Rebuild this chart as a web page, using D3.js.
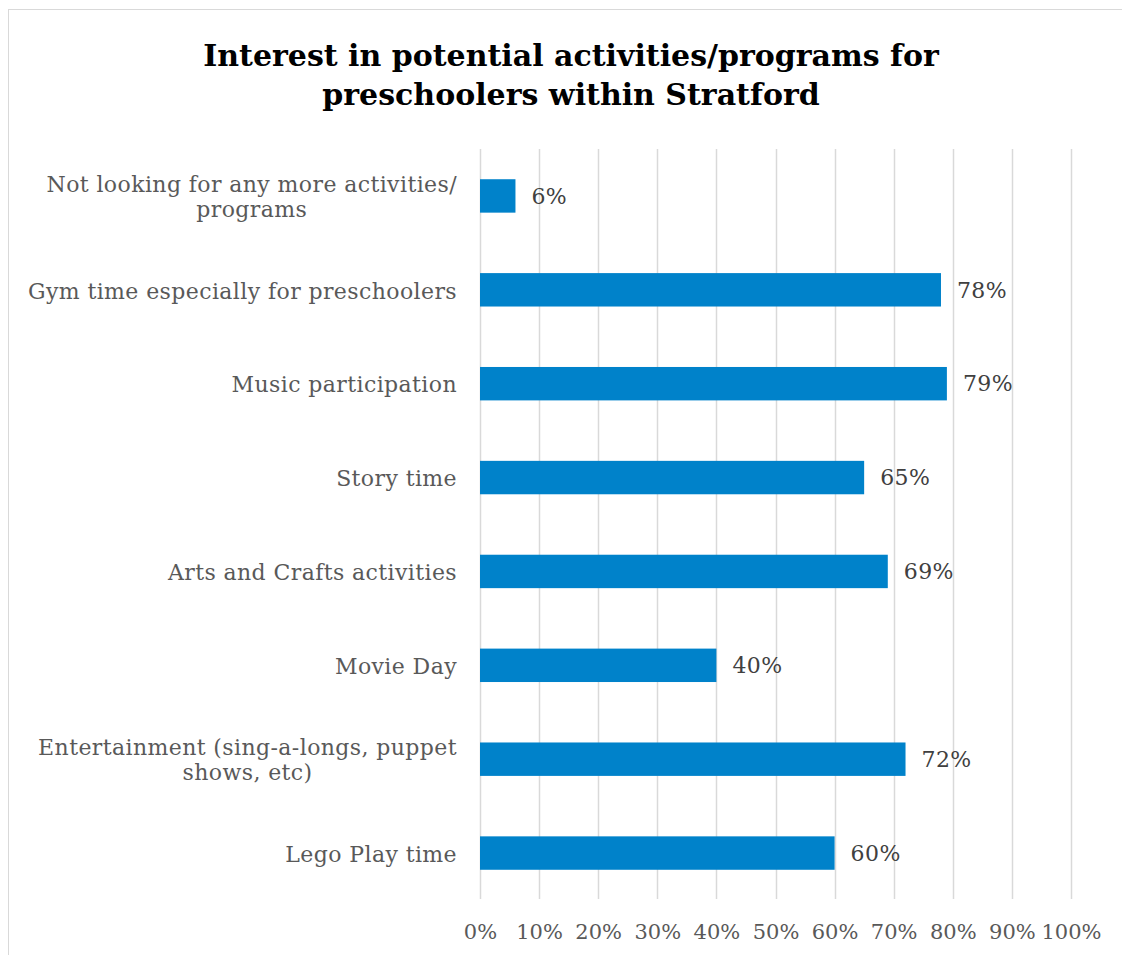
<!DOCTYPE html>
<html>
<head>
<meta charset="utf-8">
<script src="https://cdn.jsdelivr.net/npm/d3@7"></script>
<style>
  html, body { margin: 0; padding: 0; background: #fff; }
  svg { display: block; }
</style>
</head>
<body>
<svg id="chart" width="1122" height="955"></svg>
<script>
// Survey results: share of respondents interested in each activity/program
const categories = [
  ["Not looking for any more activities/", "programs"],
  ["Gym time especially for preschoolers"],
  ["Music participation"],
  ["Story time"],
  ["Arts and Crafts activities"],
  ["Movie Day"],
  ["Entertainment (sing-a-longs, puppet", "shows, etc)"],
  ["Lego Play time"]
];
const values = [0.06, 0.78, 0.79, 0.65, 0.69, 0.40, 0.72, 0.60];
const tickValues = [0, 0.1, 0.2, 0.3, 0.4, 0.5, 0.6, 0.7, 0.8, 0.9, 1.0];
const titleLines = [
  "Interest in potential activities/programs for",
  "preschoolers within Stratford"
];

const W = 1122, H = 955;
const plot = { left: 480, right: 1071, top: 149, bottom: 900 };
const serif = "'DejaVu Serif', serif";
const textSize = 22;
const spacing = 0.4;

const svg = d3.select("#chart");

// chart frame
svg.append("rect")
  .attr("x", 8.5).attr("y", 9.5)
  .attr("width", W + 20).attr("height", H + 20)
  .attr("fill", "#fff")
  .attr("stroke", "#d9d9d9")
  .attr("stroke-width", 1);

// title
svg.append("g").selectAll("text")
  .data(titleLines)
  .join("text")
  .attr("x", 571)
  .attr("y", (d, i) => 66 + i * 39)
  .attr("text-anchor", "middle")
  .attr("font-family", serif)
  .attr("font-weight", "bold")
  .attr("font-size", 30)
  .attr("fill", "#000")
  .text(d => d);

const keys = categories.map((c, i) => i);

const x = d3.scaleLinear().domain([0, 1]).range([plot.left, plot.right]);
const y = d3.scaleBand()
  .domain(keys)
  .range([plot.top, plot.bottom])
  .paddingInner(0.644)
  .paddingOuter(0.322);

// vertical gridlines
svg.append("g")
  .selectAll("line")
  .data(tickValues)
  .join("line")
  .attr("x1", d => Math.round(x(d)) + 0.5)
  .attr("x2", d => Math.round(x(d)) + 0.5)
  .attr("y1", plot.top)
  .attr("y2", plot.bottom - 1)
  .attr("stroke", "#d9d9d9")
  .attr("stroke-width", 1.5);

// bottom axis labels
const xAxis = d3.axisBottom(x)
  .tickValues(tickValues)
  .tickFormat(d3.format(".0%"))
  .tickSize(0)
  .tickPadding(0);
const xg = svg.append("g")
  .attr("transform", `translate(0, ${plot.bottom + 24})`)
  .call(xAxis);
xg.select(".domain").remove();
xg.selectAll("text")
  .attr("font-family", serif)
  .attr("font-size", 21)
  .attr("fill", "#595959");

// bars
svg.append("g")
  .selectAll("rect")
  .data(values)
  .join("rect")
  .attr("x", x(0))
  .attr("y", (d, i) => y(i))
  .attr("width", d => x(d) - x(0))
  .attr("height", y.bandwidth())
  .attr("fill", "#0082ca");

// value labels
svg.append("g")
  .selectAll("text")
  .data(values)
  .join("text")
  .attr("x", d => x(d) + 16)
  .attr("y", (d, i) => y(i) + y.bandwidth() / 2)
  .attr("dy", "0.35em")
  .attr("font-family", serif)
  .attr("font-size", textSize)
  .attr("letter-spacing", spacing)
  .attr("fill", "#404040")
  .text(d => d3.format(".0%")(d));

// category labels (wrapped lines centred on each other, block right-aligned)
const labelRight = plot.left - 23;
const lineH = 25;
const catG = svg.append("g");
categories.forEach((lines, i) => {
  const cy = y(i) + y.bandwidth() / 2 + 1;
  const g = catG.append("g");
  const texts = g.selectAll("text")
    .data(lines)
    .join("text")
    .attr("font-family", serif)
    .attr("font-size", textSize)
    .attr("letter-spacing", spacing)
    .attr("fill", "#595959")
    .attr("text-anchor", "middle")
    .attr("y", (d, j) => cy + (j - (lines.length - 1) / 2) * lineH)
    .attr("dy", "0.35em")
    .text(d => d);
  const widths = texts.nodes().map(n => n.getComputedTextLength());
  const maxW = d3.max(widths);
  texts.attr("x", labelRight - maxW / 2);
});
</script>
</body>
</html>
